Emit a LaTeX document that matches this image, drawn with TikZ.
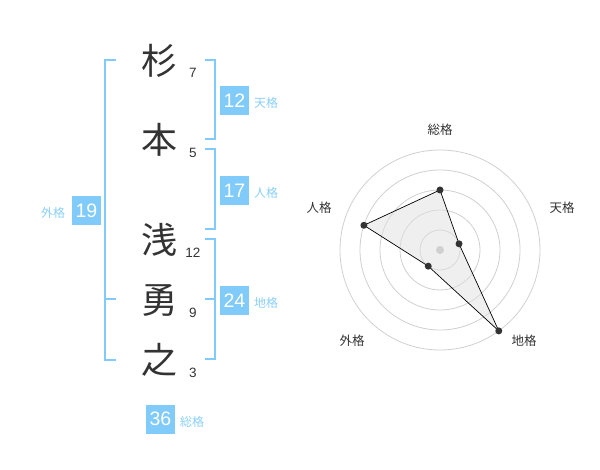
\documentclass[tikz,border=0pt]{standalone}
\usepackage{fontspec}
\setmainfont{Liberation Sans}
\newfontfamily\jp{Noto Sans CJK JP}
\definecolor{sky}{HTML}{80CBF9}
\definecolor{skytxt}{HTML}{8ACFF8}
\definecolor{ink}{HTML}{333333}
\definecolor{ring}{HTML}{D0D0D0}
\tikzset{
  kanji/.style={font=\jp\fontsize{36}{36}\selectfont, text=ink, inner sep=0pt},
  strokes/.style={font=\fontsize{13.5}{14}\selectfont, text=ink, inner sep=0pt},
  bracket/.style={draw=sky, line width=2pt},
  numbox/.style={fill=sky, text=white, minimum width=29pt, minimum height=29pt, inner sep=0pt, font=\fontsize{19.5}{19.5}\selectfont},
  kaku/.style={text=skytxt, font=\jp\fontsize{12}{12}\selectfont, inner sep=0pt},
  axlabel/.style={text=ink, font=\jp\fontsize{12.5}{12.5}\selectfont, inner sep=0pt},
  dot/.style={circle, fill=ink, minimum size=7pt, inner sep=0pt},
}
\begin{document}
\begin{tikzpicture}[x=1pt,y=-1pt]
\useasboundingbox (0,0) rectangle (600,470);
% name characters
\node[kanji] (c1) at (159,61) {杉};
\node[kanji] (c2) at (159,140) {本};
\node[kanji] (c3) at (159,240) {浅};
\node[kanji] (c4) at (159,300) {勇};
\node[kanji] (c5) at (159,360) {之};
\node[strokes] (s1) at (193,73) {7};
\node[strokes] (s2) at (193,153) {5};
\node[strokes] (s3) at (193,253) {12};
\node[strokes] (s4) at (193,313) {9};
\node[strokes] (s5) at (193,373) {3};
% brackets
\coordinate (lt) at (116,60); \coordinate (lm) at (116,299); \coordinate (lb) at (116,360);
\draw[bracket] (lt) -- (105,60) -- (105,360) -- (lb);
\draw[bracket] (lm) -- (105,299);
\draw[bracket] (205,60) -- (215,60) -- (215,139) -- (205,139);
\draw[bracket] (205,149) -- (215,149) -- (215,229) -- (205,229);
\draw[bracket] (205,239) -- (215,239) -- (215,359) -- (205,359);
\draw[bracket] (205,299) -- (215,299);
% boxes
\node[numbox] (b1) at (234.5,100.5) {12};
\node[kaku] (l1) at (266,103) {天格};
\node[numbox] (b2) at (234.5,190.5) {17};
\node[kaku] (l2) at (266,193) {人格};
\node[numbox] (b3) at (86.5,210.5) {19};
\node[kaku] (l3) at (53,213) {外格};
\node[numbox] (b4) at (234.5,300.5) {24};
\node[kaku] (l4) at (266,303) {地格};
\node[numbox] (b5) at (160.5,419) {36};
\node[kaku] (l5) at (192,422) {総格};
% radar
\begin{scope}[shift={(440,250)}, yscale=-1]
  \foreach \r in {20,40,60,80,100} \draw[ring, line width=0.8pt] (0,0) circle[radius=\r];
  \coordinate (p1) at (90:60);
  \coordinate (p2) at (18:20);
  \coordinate (p3) at (-54:100);
  \coordinate (p4) at (-126:20);
  \coordinate (p5) at (162:80);
  \fill[black!12, opacity=0.5] (p1) -- (p2) -- (p3) -- (p4) -- (p5) -- cycle;
  \node[circle, fill=ring, minimum size=8pt, inner sep=0pt] (ctr) at (0,0) {};
  \draw[black, line width=0.7pt] (p1) -- (p2) -- (p3) -- (p4) -- (p5) -- cycle;
  \foreach \p in {p1,p2,p3,p4,p5} \node[dot] at (\p) {};
\end{scope}
\node[axlabel] (a1) at (440,130) {総格};
\node[axlabel] (a2) at (562,208) {天格};
\node[axlabel] (a3) at (524,341) {地格};
\node[axlabel] (a4) at (352,341) {外格};
\node[axlabel] (a5) at (319,208) {人格};
\end{tikzpicture}
\end{document}
